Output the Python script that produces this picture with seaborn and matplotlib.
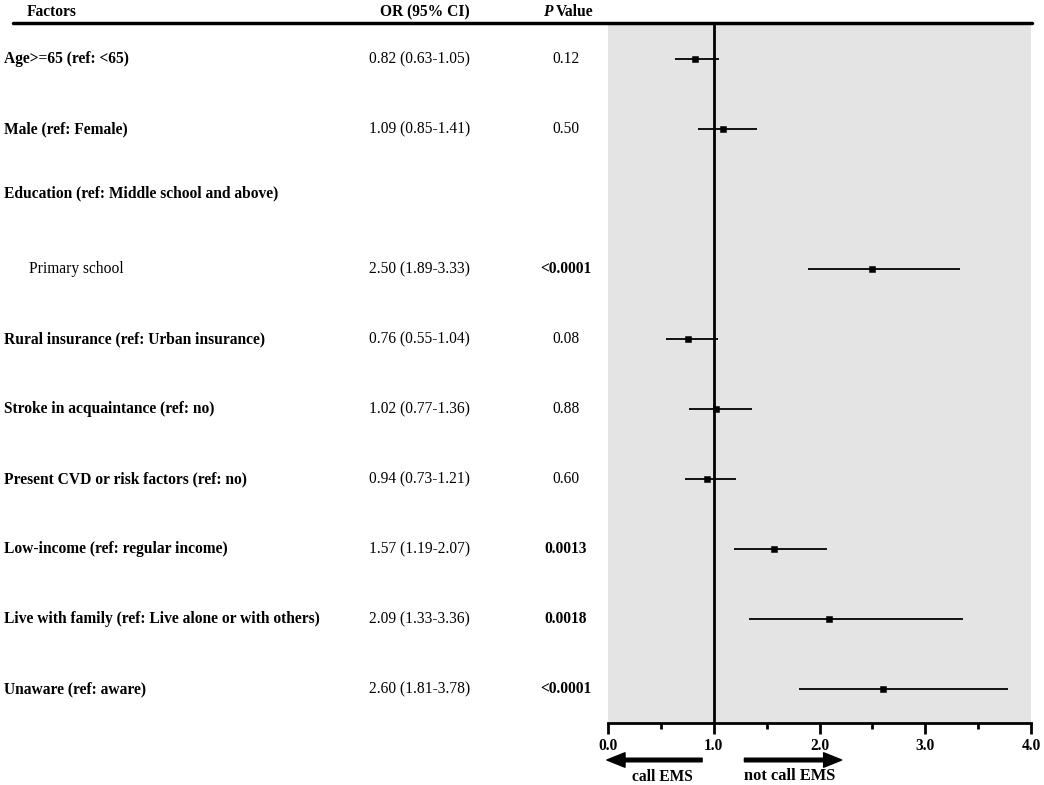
import matplotlib
matplotlib.use("Agg")
import matplotlib.pyplot as plt
import matplotlib.transforms as mtransforms
from matplotlib.lines import Line2D
import pandas as pd
import seaborn as sns

# forest plot data
factors = ['Age>=65 (ref: <65)', 'Male (ref: Female)', 'Education (ref: Middle school and above)',
           'Primary school', 'Rural insurance (ref: Urban insurance)', 'Stroke in acquaintance (ref: no)',
           'Present CVD or risk factors (ref: no)', 'Low-income (ref: regular income)',
           'Live with family (ref: Live alone or with others)', 'Unaware (ref: aware)']
odds = [0.82, 1.09, None, 2.50, 0.76, 1.02, 0.94, 1.57, 2.09, 2.60]
ci_low = [0.63, 0.85, None, 1.89, 0.55, 0.77, 0.73, 1.19, 1.33, 1.81]
ci_high = [1.05, 1.41, None, 3.33, 1.04, 1.36, 1.21, 2.07, 3.36, 3.78]
p_values = ['0.12', '0.50', '', '<0.0001', '0.08', '0.88', '0.60', '0.0013', '0.0018', '<0.0001']
p_bold = [False, False, False, True, False, False, False, True, True, True]
label_bold = [True, True, True, False, True, True, True, True, True, True]
rows = [0, 1, 1.92, 3, 4, 5, 6, 7, 8, 9]
major_ticks = [0.0, 1.0, 2.0, 3.0, 4.0]
minor_ticks = [0.5, 1.5, 2.5, 3.5]

df = pd.DataFrame({'factor': factors, 'OR': odds, 'lo': ci_low, 'hi': ci_high, 'row': rows})

sns.set_theme(style='white')
plt.rcParams['font.family'] = ['Liberation Serif', 'DejaVu Serif']
plt.rcParams['text.color'] = 'black'
plt.rcParams['xtick.color'] = 'black'
FS = 11.2

W, H = 1044, 785
fig = plt.figure(figsize=(W / 100, H / 100), dpi=100)
ax = fig.add_axes([608 / W, 1 - 723 / H, (1031 - 608) / W, (723 - 25) / H])
ax.set_facecolor('#e4e4e4')

d = df.dropna()
ax.hlines(d['row'], d['lo'], d['hi'], color='black', lw=1.3, zorder=3)
sns.scatterplot(data=d, x='OR', y='row', marker='s', s=22, color='black',
                edgecolor='black', ax=ax, zorder=4, legend=False)
ax.axvline(1.0, color='black', lw=2, zorder=2, ymax=1.003, clip_on=False)

ax.set_xlim(0, 4)
ax.set_ylim(9.486, -0.486)
ax.set_xlabel('')
ax.set_ylabel('')
ax.set_yticks([])
ax.set_xticks(major_ticks)
ax.set_xticks(minor_ticks, minor=True)
ax.set_xticklabels([f'{t:.1f}' for t in major_ticks], fontweight='bold', fontsize=FS)
ax.tick_params(axis='x', which='major', length=8, width=2, color='black', direction='out',
               bottom=True, pad=3)
ax.tick_params(axis='x', which='minor', length=4, width=2, color='black', direction='out', bottom=True)
for s in ['top', 'left', 'right']:
    ax.spines[s].set_visible(False)
ax.spines['bottom'].set_color('black')
ax.spines['bottom'].set_linewidth(2)

# header
fig.add_artist(Line2D([13 / W, 1032 / W], [1 - 23 / H, 1 - 23 / H], color='black', lw=2.5))
hy = 1 - 12 / H
fig.text(27 / W, hy, 'Factors', fontsize=FS, fontweight='bold', va='center', ha='left')
fig.text(470 / W, hy, 'OR (95% CI)', fontsize=FS, fontweight='bold', va='center', ha='right')
fig.text(543 / W, hy, 'P', fontsize=FS, fontweight='bold', style='italic', va='center', ha='left')
fig.text(556 / W, hy, 'Value', fontsize=FS, fontweight='bold', va='center', ha='left')

# text columns
trans = mtransforms.blended_transform_factory(fig.transFigure, ax.transData)
for i, r in df.iterrows():
    x0 = 4 if label_bold[i] else 29
    ax.text(x0 / W, r['row'], r['factor'], transform=trans, fontsize=FS,
            fontweight='bold' if label_bold[i] else 'normal', va='center', ha='left')
    if pd.notna(r['OR']):
        ax.text(470 / W, r['row'], f"{r['OR']:.2f} ({r['lo']:.2f}-{r['hi']:.2f})", transform=trans,
                fontsize=FS, va='center', ha='right')
    ax.text(566 / W, r['row'], p_values[i], transform=trans, fontsize=FS,
            fontweight='bold' if p_bold[i] else 'normal', va='center', ha='center')

# direction arrows
arrow = dict(arrowstyle='simple,head_length=1.0,head_width=0.8,tail_width=0.2',
             color='black', mutation_scale=13, shrinkA=0, shrinkB=0)
ay = 1 - 760 / H
ax.annotate('', xy=(-0.01, ay), xytext=(0.89, ay), xycoords=('data', 'figure fraction'),
            textcoords=('data', 'figure fraction'), arrowprops=arrow, annotation_clip=False)
ax.annotate('', xy=(2.21, ay), xytext=(1.29, ay), xycoords=('data', 'figure fraction'),
            textcoords=('data', 'figure fraction'), arrowprops=arrow, annotation_clip=False)
fig.text(662 / W, 1 - 777 / H, 'call EMS', fontsize=FS, fontweight='bold', ha='center', va='center')
fig.text(790 / W, 1 - 776 / H, 'not call EMS', fontsize=FS + 0.6, fontweight='bold', ha='center', va='center')

fig.savefig('out.png', dpi=100, facecolor='white')
